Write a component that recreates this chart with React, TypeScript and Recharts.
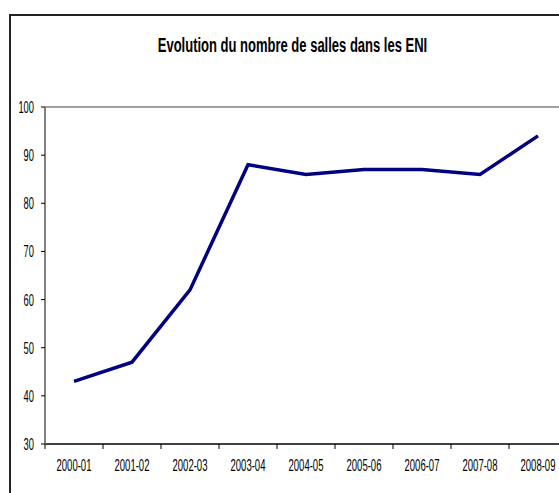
import React from 'react';
import { LineChart, Line, XAxis, YAxis, ReferenceLine } from 'recharts';

const years = ['2000-01', '2001-02', '2002-03', '2003-04', '2004-05', '2005-06', '2006-07', '2007-08', '2008-09'];
const salles = [43, 47, 62, 88, 86, 87, 87, 86, 94];
const yTicks = [30, 40, 50, 60, 70, 80, 90, 100];

const data = years.map((year, i) => ({ year, salles: salles[i] }));

const FONT = '"Liberation Sans", Arial, sans-serif';

const CHART_W = 600;
const PLOT_LEFT = 45;
const PLOT_RIGHT = 33;
// width of one category band, so ticks sit between categories like in Excel
const BAND = (CHART_W - PLOT_LEFT - PLOT_RIGHT) / years.length;

const XTick = (props: any) => {
  const { x, y, payload, index } = props;
  const axisY = y - 2;
  const isLast = index === years.length - 1;
  return (
    <g>
      <line x1={x - BAND / 2} x2={x - BAND / 2} y1={axisY} y2={axisY + 5} stroke="#000" />
      {isLast && <line x1={x + BAND / 2} x2={x + BAND / 2} y1={axisY} y2={axisY + 5} stroke="#000" />}
      <text
        transform={`translate(${x},${y + 25}) scale(0.56,1)`}
        textAnchor="middle"
        fontFamily={FONT}
        fontSize={17}
        fill="#000"
      >
        {payload.value}
      </text>
    </g>
  );
};

const YTick = (props: any) => {
  const { x, y, payload } = props;
  return (
    <text
      transform={`translate(${x},${y + 6}) scale(0.55,1)`}
      textAnchor="end"
      fontFamily={FONT}
      fontSize={17}
      fill="#000"
    >
      {payload.value}
    </text>
  );
};

const App: React.FC = () => {
  return (
    <div style={{ position: 'fixed', left: 0, top: 0, width: 559, height: 493, overflow: 'hidden', background: '#fff' }}>
      {/* chart frame, cropped on the right and bottom */}
      <div style={{ position: 'absolute', left: 9, top: 14, width: 700, height: 600, border: '2px solid #222', boxSizing: 'border-box' }} />

      {/* Title */}
      <div
        style={{
          position: 'absolute',
          left: 0,
          top: 35,
          width: 585,
          textAlign: 'center',
          fontFamily: FONT,
          fontWeight: 'bold',
          fontSize: 20,
          lineHeight: '20px',
          transform: 'scaleX(0.65)',
          transformOrigin: 'center',
          whiteSpace: 'nowrap',
        }}
      >
        Evolution du nombre de salles dans les ENI
      </div>

      <div style={{ position: 'absolute', left: 0, top: 0 }}>
        <LineChart width={CHART_W} height={500} data={data} margin={{ top: 107, right: PLOT_RIGHT, left: 0, bottom: 0 }}>
          <ReferenceLine y={100} stroke="#808080" strokeWidth={1.5} />
          <XAxis
            dataKey="year"
            height={56}
            padding={{ left: BAND / 2, right: BAND / 2 }}
            axisLine={{ stroke: '#000', strokeWidth: 1.5 }}
            tickLine={false}
            tickSize={0}
            tickMargin={2}
            tick={<XTick />}
            interval={0}
          />
          <YAxis
            width={PLOT_LEFT}
            domain={[30, 100]}
            ticks={yTicks}
            axisLine={{ stroke: '#808080', strokeWidth: 2 }}
            tickLine={{ stroke: '#000' }}
            tickSize={4}
            tickMargin={7}
            tick={<YTick />}
          />
          <Line
            type="linear"
            dataKey="salles"
            stroke="#000080"
            strokeWidth={3.5}
            dot={false}
            isAnimationActive={false}
          />
        </LineChart>
      </div>
    </div>
  );
};

export default App;
